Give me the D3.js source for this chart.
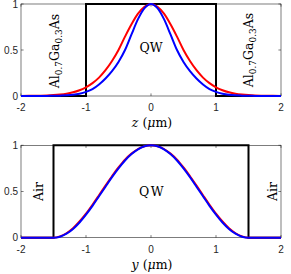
<!DOCTYPE html>
<html>
<head>
<meta charset="utf-8">
<script src="https://cdn.jsdelivr.net/npm/d3@7"></script>
<style>
  body { margin: 0; background: #fff; }
  svg { display: block; }
  .tick-label { font-family: "Liberation Sans", Arial, sans-serif; font-size: 10px; fill: #262626; }
  .tex { font-family: "DejaVu Serif", "Liberation Serif", serif; fill: #000; }
</style>
</head>
<body>
<script>
// --- data ---
// top panel: AlGaAs / QW / AlGaAs along z
const zGrid = [-2, -1.8, -1.6, -1.5, -1.4, -1.3, -1.2, -1.1, -1, -0.9, -0.8, -0.7, -0.6, -0.5, -0.4, -0.3, -0.2, -0.1,
  0, 0.1, 0.2, 0.3, 0.4, 0.5, 0.6, 0.7, 0.8, 0.9, 1, 1.1, 1.2, 1.3, 1.4, 1.5, 1.6, 1.8, 2];
const zRed = [0.001, 0.002, 0.006, 0.01, 0.016, 0.025, 0.04, 0.063, 0.095, 0.14, 0.2, 0.28, 0.38, 0.5, 0.645, 0.78, 0.895, 0.97,
  1, 0.97, 0.895, 0.78, 0.645, 0.5, 0.38, 0.28, 0.2, 0.14, 0.095, 0.063, 0.04, 0.025, 0.016, 0.01, 0.006, 0.002, 0.001];
const zBlue = [0, 0, 0.001, 0.002, 0.004, 0.007, 0.013, 0.025, 0.045, 0.075, 0.125, 0.19, 0.27, 0.37, 0.5, 0.67, 0.835, 0.955,
  1, 0.955, 0.835, 0.67, 0.5, 0.37, 0.27, 0.19, 0.125, 0.075, 0.045, 0.025, 0.013, 0.007, 0.004, 0.002, 0.001, 0, 0];
const zStepX = [-2, -1, -1, 1, 1, 2];
const zStepY = [0, 0, 1, 1, 0, 0];

// bottom panel: Air / QW / Air along y
const yGrid = [-2, -1.5, -1.4, -1.3, -1.2, -1.1, -1, -0.9, -0.8, -0.7, -0.6, -0.5, -0.4, -0.3, -0.2, -0.1,
  0, 0.1, 0.2, 0.3, 0.4, 0.5, 0.6, 0.7, 0.8, 0.9, 1, 1.1, 1.2, 1.3, 1.4, 1.5, 2];
const yRed = [0, 0, 0.014, 0.048, 0.102, 0.175, 0.26, 0.357, 0.46, 0.565, 0.665, 0.76, 0.845, 0.91, 0.96, 0.99,
  1, 0.99, 0.96, 0.91, 0.845, 0.76, 0.665, 0.565, 0.46, 0.357, 0.26, 0.175, 0.102, 0.048, 0.014, 0, 0];
const yBlue = [0, 0, 0.011, 0.043, 0.095, 0.165, 0.25, 0.345, 0.448, 0.552, 0.655, 0.75, 0.835, 0.905, 0.957, 0.989,
  1, 0.989, 0.957, 0.905, 0.835, 0.75, 0.655, 0.552, 0.448, 0.345, 0.25, 0.165, 0.095, 0.043, 0.011, 0, 0];
const yStepX = [-2, -1.5, -1.5, 1.5, 1.5, 2];
const yStepY = [0, 0, 1, 1, 0, 0];

const xTicks = [-2, -1, 0, 1, 2];
const vTicks = [0, 0.5, 1];

const w = 291, h = 274;
const texSize = 12.5;
const svg = d3.select("body").append("svg").attr("width", w).attr("height", h);

const x = d3.scaleLinear().domain([-2, 2]).range([21, 281]);

const drawPanel = (top, bottom, grid, red, blue, stepX, stepY) => {
  const y = d3.scaleLinear().domain([0, 1]).range([bottom, top]);
  const g = svg.append("g");

  // box
  g.append("rect")
    .attr("x", x(-2)).attr("y", y(1))
    .attr("width", x(2) - x(-2)).attr("height", y(0) - y(1))
    .attr("fill", "none").attr("stroke", "#262626").attr("stroke-width", 0.6);

  // ticks inside, all four sides
  const tl = 2.6;
  xTicks.forEach(t => {
    g.append("line").attr("x1", x(t)).attr("x2", x(t)).attr("y1", y(0)).attr("y2", y(0) - tl)
      .attr("stroke", "#262626").attr("stroke-width", 0.6);
    g.append("line").attr("x1", x(t)).attr("x2", x(t)).attr("y1", y(1)).attr("y2", y(1) + tl)
      .attr("stroke", "#262626").attr("stroke-width", 0.6);
    g.append("text").attr("class", "tick-label")
      .attr("x", x(t)).attr("y", y(0) + 15).attr("text-anchor", "middle").text(t);
  });
  vTicks.forEach(t => {
    g.append("line").attr("x1", x(-2)).attr("x2", x(-2) + tl).attr("y1", y(t)).attr("y2", y(t))
      .attr("stroke", "#262626").attr("stroke-width", 0.6);
    g.append("line").attr("x1", x(2)).attr("x2", x(2) - tl).attr("y1", y(t)).attr("y2", y(t))
      .attr("stroke", "#262626").attr("stroke-width", 0.6);
    g.append("text").attr("class", "tick-label")
      .attr("x", x(-2) - 3).attr("y", y(t) + 3.5).attr("text-anchor", "end").text(t);
  });

  const line = d3.line().x(d => x(d[0])).y(d => y(d[1]));
  const smooth = d3.line().x(d => x(d[0])).y(d => y(d[1])).curve(d3.curveMonotoneX);

  g.append("path").datum(d3.zip(stepX, stepY)).attr("d", line)
    .attr("fill", "none").attr("stroke", "#000").attr("stroke-width", 2);
  g.append("path").datum(d3.zip(grid, red)).attr("d", smooth)
    .attr("fill", "none").attr("stroke", "#ff0000").attr("stroke-width", 2);
  g.append("path").datum(d3.zip(grid, blue)).attr("d", smooth)
    .attr("fill", "none").attr("stroke", "#0000ff").attr("stroke-width", 2);

  return y;
};

const yTop = drawPanel(4, 96, zGrid, zRed, zBlue, zStepX, zStepY);
const yBot = drawPanel(145.3, 237.7, yGrid, yRed, yBlue, yStepX, yStepY);

// region labels
const alGaAs = (cx, cy) => {
  const t = svg.append("text").attr("class", "tex")
    .attr("transform", `translate(${cx},${cy}) rotate(-90)`)
    .attr("text-anchor", "middle").style("font-size", texSize + "px");
  t.append("tspan").text("Al");
  t.append("tspan").attr("dy", 2.8).style("font-size", "9px").text("0.7");
  t.append("tspan").attr("dy", -2.8).text("Ga");
  t.append("tspan").attr("dy", 2.8).style("font-size", "9px").text("0.3");
  t.append("tspan").attr("dy", -2.8).text("As");
};
alGaAs(59, 51);
alGaAs(253, 50);

svg.append("text").attr("class", "tex").attr("x", x(0)).attr("y", yTop(0.5) + 1.5)
  .attr("text-anchor", "middle").style("font-size", texSize + "px").text("QW");

[[43, "Air"], [277, "Air"]].forEach(([cx, s]) => {
  svg.append("text").attr("class", "tex")
    .attr("transform", `translate(${cx},${yBot(0.5)}) rotate(-90)`)
    .attr("text-anchor", "middle").style("font-size", texSize + "px").text(s);
});
svg.append("text").attr("class", "tex").attr("x", x(0) + 1).attr("y", yBot(0.5) + 4.5)
  .attr("text-anchor", "middle").style("font-size", texSize + "px").style("letter-spacing", "1.5px").text("QW");

// axis labels
const axisLabel = (v, cy) => {
  const t = svg.append("text").attr("class", "tex")
    .attr("x", x(0) + 1).attr("y", cy).attr("text-anchor", "middle").style("font-size", texSize + "px");
  t.append("tspan").style("font-style", "italic").text(v);
  t.append("tspan").text(" (");
  t.append("tspan").style("font-style", "italic").text("μ");
  t.append("tspan").text("m)");
};
axisLabel("z", 127);
axisLabel("y", 268.5);
</script>
</body>
</html>
